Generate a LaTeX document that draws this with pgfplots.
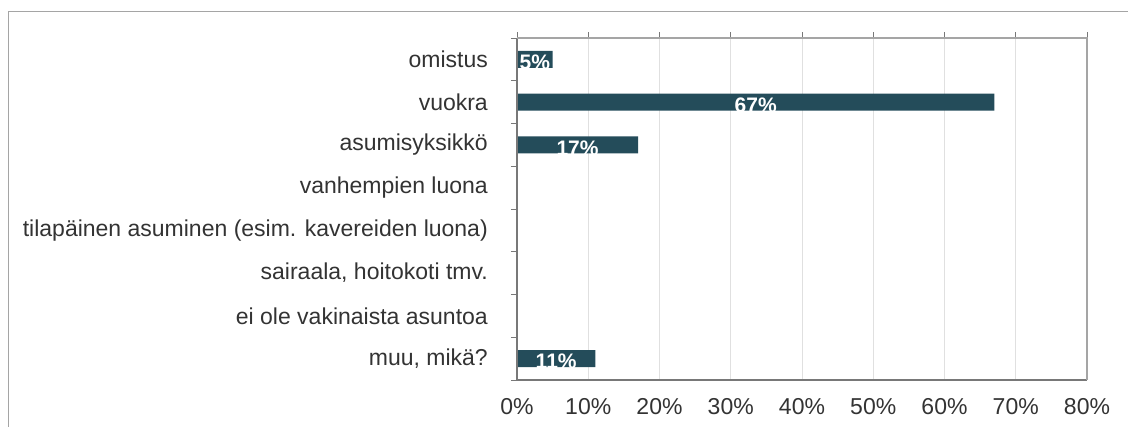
\documentclass[border=0pt]{standalone}
\usepackage{fontspec}
\setmainfont{Liberation Sans}
\usepackage{pgfplots}
\pgfplotsset{compat=1.18}
\usepackage{pgfplotstable}
\definecolor{barc}{RGB}{36,76,90}
\definecolor{txt}{RGB}{51,51,51}
\definecolor{gridc}{RGB}{224,224,224}
\definecolor{framec}{RGB}{165,165,165}
\definecolor{axc}{RGB}{120,120,120}
\pgfplotstableread{
idx val
0 5
1 67
2 17
3 0
4 0
5 0
6 0
7 11
}\data
\begin{document}
\begin{tikzpicture}
\path[use as bounding box] (0,0) rectangle (1128pt,427pt);
\draw[framec, line width=1pt] (8pt,0) -- (8pt,415pt) -- (1128pt,415pt);
\begin{axis}[
  at={(517pt,47pt)}, anchor=south west,
  scale only axis, width=570pt, height=342pt,
  xmin=0, xmax=80, ymin=-0.5, ymax=7.5, y dir=reverse,
  xtick={0,10,...,80},
  xticklabels={0\%,10\%,20\%,30\%,40\%,50\%,60\%,70\%,80\%},
  xtick pos=top, xticklabel pos=bottom,
  tick align=outside,
  major tick length=6pt,
  minor tick length=6pt,
  ytick={0,...,7},
  yticklabels={omistus, vuokra, asumisyksikkö, vanhempien luona, tilapäinen asuminen (esim. kavereiden luona), {sairaala, hoitokoti tmv.}, ei ole vakinaista asuntoa, {muu, mikä?}},
  every major y tick/.append style={draw=none},
  minor ytick={-0.5,0.5,...,7.5},
  ytick pos=left,
  xmajorgrids, grid style={gridc, line width=0.8pt},
  axis line style={draw=none},
  tick style={axc, line width=0.8pt},
  minor tick style={axc, line width=0.8pt},
  xticklabel style={font=\fontsize{23}{26}\selectfont, text=txt, yshift=-9pt},
  yticklabel style={font=\fontsize{23}{26}\selectfont, text=txt, inner sep=0pt, xshift=-23pt},
  clip=false,
]
\addplot[xbar, bar width=17pt, fill=barc, draw=none] table[x=val, y=idx] {\data};
\addplot[draw=none, mark=none,
  nodes near coords={\pgfmathprintnumber[assume math mode=true]{\pgfplotspointmeta}\%},
  point meta=explicit,
  every node near coord/.append style={anchor=center, text=white, font=\bfseries\fontsize{21}{24}\selectfont, yshift=-3pt, inner sep=0pt},
  x filter/.expression={x<=0 ? nan : x}]
  table[x expr=\thisrow{val}/2, y=idx, meta=val] {\data};
\draw[axc, line width=1.2pt] (axis description cs:0,1) -- (axis description cs:0,0) -- (axis description cs:1,0);
\draw[framec, line width=1.8pt] (axis description cs:0,1) -- (axis description cs:1,1) -- (axis description cs:1,0);
\end{axis}
\end{tikzpicture}
\end{document}
